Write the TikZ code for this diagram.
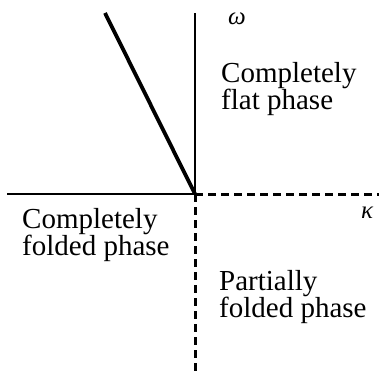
\documentclass[tikz,border=0pt]{standalone}
\usepackage{fontspec}
\setmainfont{Liberation Serif}
\usepackage{tikz}
\usetikzlibrary{calc, positioning}

\tikzset{
    phase/.style={anchor=base west, inner sep=0pt, align=left,
        font=\fontsize{29}{27}\selectfont},
    axislabel/.style={anchor=base west, inner sep=0pt,
        font=\fontsize{25}{25}\selectfont\itshape},
    boundary/.style={line width=3.8pt},
    transition/.style={line width=3pt, dash pattern=on 8pt off 5pt}
}

\begin{document}
\begin{tikzpicture}[x=1pt, y=1pt]
    \useasboundingbox (0,0) rectangle (379,375);
    % Gốc và các điểm mút
    \coordinate (O) at (195,181);
    \coordinate (wtop) at (195,362);
    \coordinate (kleft) at (7,181);
    \coordinate (kright) at (379,181);
    \coordinate (wbot) at (195,0);
    \coordinate (ltop) at (105,362);
    % Vẽ hệ trục
    \draw[line width=1.3pt] (kleft) -- (O) -- (wtop);
    \node[axislabel] (w) at (228,350) {ω};
    \node[axislabel] (k) at (361,157) {κ};
    % Các đường biên pha
    \draw[boundary] (ltop) -- (O);
    \draw[transition] (O) -- (kright);
    \draw[transition] (O) -- (wbot);
    % Tên các pha
    \node[phase] (flat) at (221,265) {Completely\\flat phase};
    \node[phase] (folded) at (22,120) {Completely\\folded phase};
    \node[phase] (partial) at (219,58) {Partially\\folded phase};
\end{tikzpicture}
\end{document}
